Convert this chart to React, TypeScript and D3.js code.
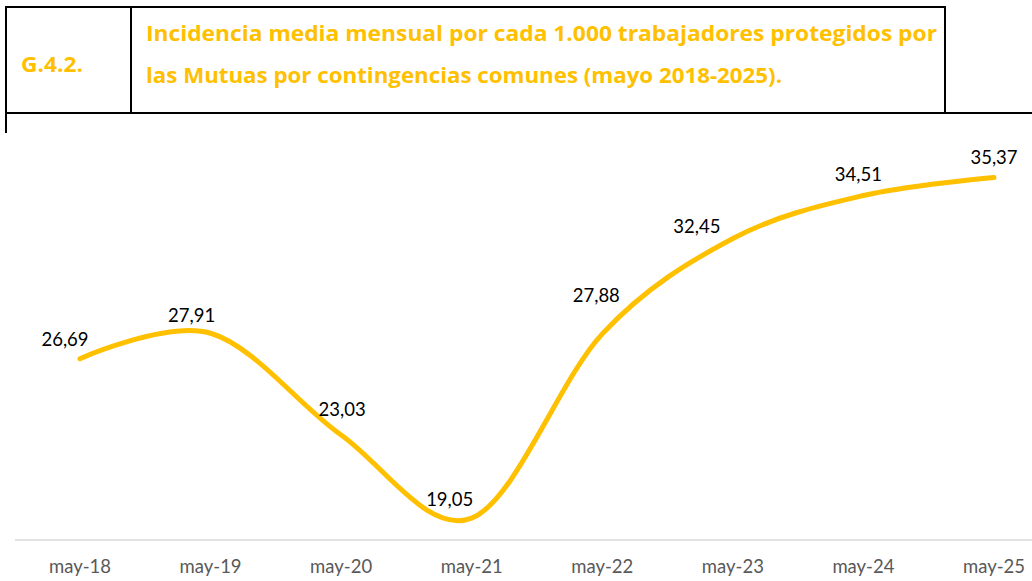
import React from "react";
import * as d3 from "d3";

const categories = ["may-18", "may-19", "may-20", "may-21", "may-22", "may-23", "may-24", "may-25"];
const values = [26.69, 27.91, 23.03, 19.05, 27.88, 32.45, 34.51, 35.37];
const valueLabels = ["26,69", "27,91", "23,03", "19,05", "27,88", "32,45", "34,51", "35,37"];
const chartCode = "G.4.2.";
const titleLines = [
  "Incidencia media mensual por cada 1.000 trabajadores protegidos por",
  "las Mutuas por contingencias comunes (mayo 2018-2025).",
];

// layout-only offsets of the data labels relative to their points (manually placed in source)
const labelOffsetX = [-15, -19, 1, -22, -6, -36, -5, 0];
const labelOffsetY = [-13, -11, -19, -12, -32, -6, -15, -14];

const W = 1032;
const H = 581;

export default function App() {
  const x = d3.scalePoint<string>().domain(categories).range([80, 994]);
  const y = d3.scaleLinear().domain([18, 40]).range([540, 81]);

  const pts: [number, number][] = values.map((v, i) => [x(categories[i]) as number, y(v)]);
  const line = d3.line().curve(d3.curveCatmullRom.alpha(0))(pts) || "";

  const gold = "#FFC000";
  const labelFont = "Lato, 'Open Sans', sans-serif";
  const titleFont = "'Open Sans', 'DejaVu Sans', sans-serif";

  return (
    <svg
      width={W}
      height={H}
      viewBox={`0 0 ${W} ${H}`}
      style={{ position: "absolute", left: 0, top: 0, background: "#fff" }}
    >
      <rect x={0} y={0} width={W} height={H} fill="#fff" />
      {/* header box */}
      <g stroke="#000" strokeWidth={2} fill="none">
        <line x1={6} y1={7} x2={945} y2={7} />
        <line x1={6} y1={6} x2={6} y2={133} />
        <line x1={131} y1={7} x2={131} y2={113} />
        <line x1={945} y1={6} x2={945} y2={113} />
        <line x1={5} y1={113} x2={W} y2={113} />
      </g>
      <text
        x={21}
        y={72}
        fill={gold}
        fontFamily={titleFont}
        fontWeight={700}
        fontSize={21}
        textLength={62}
        lengthAdjust="spacingAndGlyphs"
      >
        {chartCode}
      </text>
      <text
        x={146}
        y={41}
        fill={gold}
        fontFamily={titleFont}
        fontWeight={700}
        fontSize={21}
        textLength={791}
        lengthAdjust="spacingAndGlyphs"
      >
        {titleLines[0]}
      </text>
      <text
        x={146}
        y={83}
        fill={gold}
        fontFamily={titleFont}
        fontWeight={700}
        fontSize={21}
        textLength={636}
        lengthAdjust="spacingAndGlyphs"
      >
        {titleLines[1]}
      </text>

      {/* axis line */}
      <line x1={15} y1={540} x2={W} y2={540} stroke="#d9d9d9" strokeWidth={1.5} />
      {categories.map((c) => (
        <text
          key={c}
          x={x(c) as number}
          y={573}
          textAnchor="middle"
          fill="#595959"
          fontFamily={labelFont}
          fontSize={18.5}
        >
          {c}
        </text>
      ))}

      {/* series */}
      <path d={line} fill="none" stroke={gold} strokeWidth={5} strokeLinecap="round" strokeLinejoin="round" />

      {valueLabels.map((t, i) => (
        <text
          key={t}
          x={pts[i][0] + labelOffsetX[i]}
          y={pts[i][1] + labelOffsetY[i]}
          textAnchor="middle"
          fill="#000"
          fontFamily={labelFont}
          fontSize={18.5}
        >
          {t}
        </text>
      ))}
    </svg>
  );
}
